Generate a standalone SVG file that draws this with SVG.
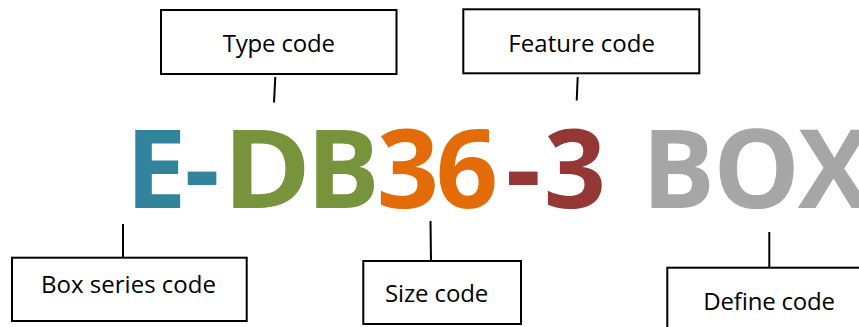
<svg xmlns="http://www.w3.org/2000/svg" width="859" height="327" viewBox="0 0 859 327">
<style>
.box{fill:#fff;stroke:#000;stroke-width:2}
.lbl{font-family:"Open Sans","Liberation Sans",sans-serif;font-size:24px;fill:#000}
.big{font-family:"Open Sans","Liberation Sans",sans-serif;font-size:109px;font-weight:700;text-anchor:middle}
.conn{stroke:#000;stroke-width:2;fill:none}
</style>
<rect width="859" height="327" fill="#fff"/>
<g id="code">
<text class="big" x="156" y="208" fill="#31849B">E</text>
<text class="big" x="202" y="208" fill="#31849B">-</text>
<text class="big" x="0" y="208" fill="#77933C" transform="translate(267,0) scale(1.1,1)">D</text>
<text class="big" x="343" y="208" fill="#77933C">B</text>
<text class="big" x="408" y="208" fill="#E36C09">3</text>
<text class="big" x="467" y="208" fill="#E36C09">6</text>
<text class="big" x="523.3" y="208" fill="#953735">-</text>
<text class="big" x="575" y="208" fill="#953735">3</text>
<text class="big" x="678.3" y="208" fill="#A6A6A6">B</text>
<text class="big" x="756.7" y="208" fill="#A6A6A6">O</text>
<text class="big" x="834" y="208" fill="#A6A6A6">X</text>
</g>
<g id="connectors">
<line class="conn" x1="275.3" y1="77" x2="274" y2="102.5"/>
<line class="conn" x1="577.7" y1="77" x2="576.7" y2="100.5"/>
<line class="conn" x1="123" y1="224" x2="123" y2="257.7"/>
<line class="conn" x1="430.5" y1="221" x2="431" y2="261"/>
<line class="conn" x1="769.3" y1="232" x2="769.3" y2="267.7"/>
</g>
<g id="type-code">
<rect class="box" x="161" y="10" width="235.5" height="64"/>
<text class="lbl" x="222.7" y="52.3" textLength="112.3">Type code</text>
</g>
<g id="feature-code">
<rect class="box" x="463.3" y="9.3" width="236" height="64"/>
<text class="lbl" x="508.3" y="51.7" textLength="146.7">Feature code</text>
</g>
<g id="box-series-code">
<rect class="box" x="12" y="257.7" width="234.7" height="63.3"/>
<text class="lbl" x="41" y="292.7" textLength="175">Box series code</text>
</g>
<g id="size-code">
<rect class="box" x="363.3" y="261" width="157.7" height="63"/>
<text class="lbl" x="385" y="302.3" textLength="103.3">Size code</text>
</g>
<g id="define-code">
<rect class="box" x="667.3" y="267.7" width="200" height="70"/>
<text class="lbl" x="703.3" y="310" textLength="131.7">Define code</text>
</g>
</svg>
